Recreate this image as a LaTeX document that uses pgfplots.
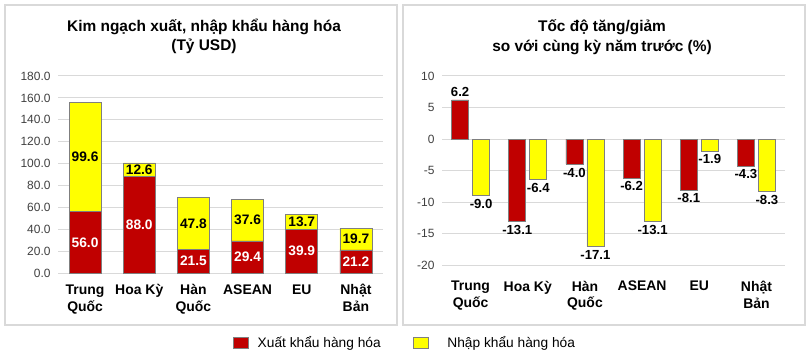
\documentclass[border=0pt]{standalone}
\usepackage{pgfplots}
\pgfplotsset{compat=1.18}
\usepackage{fontspec}
\setmainfont{Liberation Sans}
\definecolor{xred}{HTML}{C00000}
\definecolor{nyel}{HTML}{FFFF00}
\definecolor{panel}{HTML}{D9D9D9}
\definecolor{gridc}{HTML}{D9D9D9}
\definecolor{edge}{HTML}{7F7F7F}
\definecolor{tickc}{HTML}{404040}
\pgfplotsset{
  base/.style={
    scale only axis,
    axis line style={draw=none},
    tick style={draw=none},
    ymajorgrids,
    grid style={gridc, line width=1bp},
    xmin=-0.5, xmax=5.5,
    xtick={0,1,2,3,4,5},
    xticklabels={Trung\\Quốc, Hoa Kỳ, Hàn\\Quốc, ASEAN, EU, Nhật\\Bản},
    xticklabel style={align=center, font=\fontsize{14}{17}\selectfont\bfseries, anchor=north, yshift=-8bp},
    yticklabel style={font=\fontsize{12}{13}\selectfont, text=tickc, xshift=-4bp},
    /pgf/number format/assume math mode=true,
  },
}
\begin{document}
\begin{tikzpicture}[x=1bp,y=1bp]
\path[use as bounding box] (0,0) rectangle (810,361);
\draw[panel, line width=1.5bp] (5,36) rectangle (397,356);
\draw[panel, line width=1.5bp] (403,36) rectangle (805,356);
\node[font=\fontsize{15.5}{19.5}\selectfont\bfseries, align=center] at (204,324.5) {Kim ngạch xuất, nhập khẩu hàng hóa\\(Tỷ USD)};
\node[font=\fontsize{15.5}{19.5}\selectfont\bfseries, align=center] at (602,324) {Tốc độ tăng/giảm\\so với cùng kỳ năm trước (\%)};

% Left chart
\begin{axis}[base,
  at={(58bp,88bp)}, anchor=south west,
  width=325bp, height=197bp,
  ybar stacked, bar width=32bp,
  ymin=0, ymax=180, ytick={0,20,...,180},
  yticklabel={\pgfmathprintnumber[fixed, fixed zerofill, precision=1]{\tick}},
  legend style={at={(1.068,-0.355)}, anchor=center, draw=none, fill=none,
    legend columns=2, font=\fontsize{13.8}{15}\selectfont,
    /tikz/every even column/.append style={column sep=30bp}},
  legend image code/.code={\draw[#1] (0bp,-5.5bp) rectangle (15bp,5.5bp);},
]
\addplot[fill=xred, draw=edge, line width=0.6bp] coordinates {(0,56.0) (1,88.0) (2,21.5) (3,29.4) (4,39.9) (5,21.2)};
\addplot[fill=nyel, draw=edge, line width=0.6bp] coordinates {(0,99.6) (1,12.6) (2,47.8) (3,37.6) (4,13.7) (5,19.7)};
\legend{\hspace{7bp}Xuất khẩu hàng hóa, \hspace{17bp}Nhập khẩu hàng hóa}
\end{axis}
\begin{axis}[
  at={(58bp,88bp)}, anchor=south west, scale only axis,
  width=325bp, height=197bp, hide axis, clip=false,
  xmin=-0.5, xmax=5.5, ymin=0, ymax=180,
  nodes near coords, point meta=explicit symbolic,
  every node near coord/.append style={anchor=center, font=\fontsize{13.8}{15}\selectfont\bfseries},
]
\addplot[draw=none, mark=none, nodes near coords style={text=white}] coordinates {(0,28) [56.0] (1,44) [88.0] (2,10.75) [21.5] (3,14.7) [29.4] (4,19.95) [39.9] (5,10.6) [21.2]};
\addplot[draw=none, mark=none, nodes near coords style={text=black}] coordinates {(0,105.8) [99.6] (1,94.3) [12.6] (2,45.4) [47.8] (3,48.2) [37.6] (4,46.75) [13.7] (5,31.05) [19.7]};
\end{axis}

% Right chart
\begin{axis}[base,
  at={(442bp,96bp)}, anchor=south west,
  width=343bp, height=189bp,
  ybar=4bp, bar width=17bp,
  ymin=-20, ymax=10, ytick={-20,-15,...,10},
  clip=false,
  nodes near coords,
  nodes near coords style={font=\fontsize{13.2}{14}\selectfont\bfseries, /pgf/number format/.cd, fixed, fixed zerofill, precision=1},
]
\addplot[fill=xred, draw=edge, line width=0.6bp] coordinates {(0,6.2) (1,-13.1) (2,-4.0) (3,-6.2) (4,-8.1) (5,-4.3)};
\addplot[fill=nyel, draw=edge, line width=0.6bp] coordinates {(0,-9.0) (1,-6.4) (2,-17.1) (3,-13.1) (4,-1.9) (5,-8.3)};
\end{axis}
\end{tikzpicture}
\end{document}
